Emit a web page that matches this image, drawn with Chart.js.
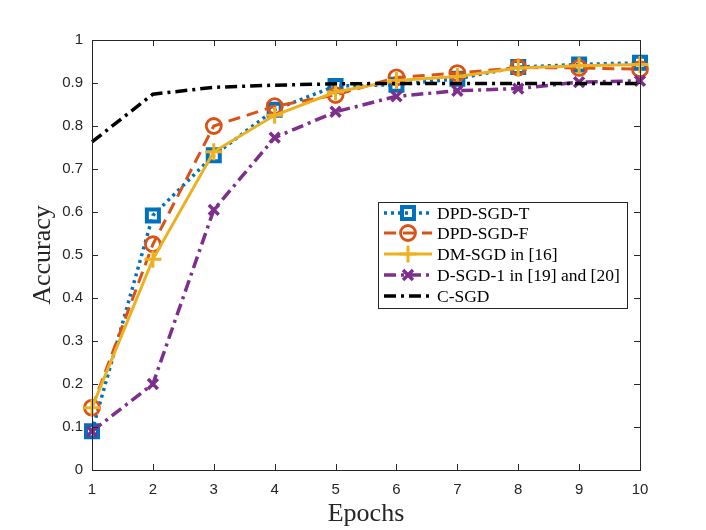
<!DOCTYPE html>
<html><head><meta charset="utf-8">
<script src="https://cdn.jsdelivr.net/npm/chart.js@4/dist/chart.umd.min.js"></script>
<style>html,body{margin:0;padding:0;background:#fff}canvas{display:block}</style>
</head><body>
<canvas id="c" width="706" height="530"></canvas>
<script>
const epochs = [1,2,3,4,5,6,7,8,9,10];
const yTicks = [0,0.1,0.2,0.3,0.4,0.5,0.6,0.7,0.8,0.9,1];
const seriesNames = ['DPD-SGD-T','DPD-SGD-F','DM-SGD in [16]','D-SGD-1 in [19] and [20]','C-SGD'];
const dpdT  = [0.090,0.592,0.732,0.838,0.893,0.896,0.910,0.937,0.943,0.947];
const dpdF  = [0.145,0.525,0.800,0.846,0.872,0.913,0.923,0.936,0.935,0.932];
const dmSgd = [0.145,0.490,0.740,0.825,0.879,0.906,0.915,0.935,0.940,0.943];
const dSgd1 = [0.090,0.200,0.605,0.773,0.833,0.869,0.882,0.887,0.902,0.905];
const cSgd  = [0.763,0.874,0.890,0.895,0.898,0.899,0.899,0.899,0.899,0.899];

const styles = [
  {color:'#0072BD', dash:[3,4], lw:3.5, pt:'rect', r:8.5, pbw:4},
  {color:'#D95319', dash:[12,7], lw:3, pt:'circle', r:7.5, pbw:2.8},
  {color:'#EDB120', dash:[], lw:3, pt:'cross', r:8.5, pbw:3},
  {color:'#7E2F8E', dash:[12,5,3,5], lw:3.5, pt:'crossRot', r:7, pbw:3.5},
  {color:'#000000', dash:[12,5,3,5], lw:3.5, pt:false, r:0, pbw:0}
];
const allData = [dpdT, dpdF, dmSgd, dSgd1, cSgd];

const datasets = allData.map((d,i)=>({
  label: seriesNames[i],
  data: epochs.map((x,j)=>({x:x,y:d[j]})),
  borderColor: styles[i].color,
  backgroundColor: 'rgba(0,0,0,0)',
  borderWidth: styles[i].lw,
  borderDash: styles[i].dash,
  pointStyle: styles[i].pt,
  pointRadius: styles[i].r,
  pointBorderWidth: styles[i].pbw,
  pointBorderColor: styles[i].color,
  pointBackgroundColor: 'rgba(0,0,0,0)',
  pointHoverRadius: styles[i].r,
  tension: 0,
  clip: false,
  order: 5 - i
}));

const frame = {
  id:'frame',
  afterDatasetsDraw(chart){
    const ctx = chart.ctx, a = chart.chartArea;
    const xs = chart.scales.x, ys = chart.scales.y;
    ctx.save();
    ctx.strokeStyle = '#262626'; ctx.lineWidth = 1; ctx.setLineDash([]);
    ctx.strokeRect(a.left+0.5, a.top+0.5, a.right-a.left, a.bottom-a.top);
    const L = 6;
    ctx.beginPath();
    epochs.forEach(v=>{
      const px = Math.round(xs.getPixelForValue(v))+0.5;
      ctx.moveTo(px,a.bottom); ctx.lineTo(px,a.bottom-L);
      ctx.moveTo(px,a.top); ctx.lineTo(px,a.top+L);
    });
    yTicks.forEach(v=>{
      const py = Math.round(ys.getPixelForValue(v))+0.5;
      ctx.moveTo(a.left,py); ctx.lineTo(a.left+L,py);
      ctx.moveTo(a.right,py); ctx.lineTo(a.right-L,py);
    });
    ctx.stroke();
    // legend
    const bx=378, by=202, bw=249, bh=106;
    ctx.fillStyle='#fff'; ctx.fillRect(bx,by,bw,bh);
    ctx.strokeStyle='#262626'; ctx.strokeRect(bx+0.5,by+0.5,bw,bh);
    const rows=[213,233,254,275,296];
    ctx.font='17.5px "Liberation Serif"'; ctx.textBaseline='middle'; ctx.textAlign='left';
    seriesNames.forEach((n,i)=>{
      const s=styles[i], y=rows[i];
      ctx.strokeStyle=s.color; ctx.lineWidth=s.lw; ctx.setLineDash(s.dash);
      ctx.beginPath(); ctx.moveTo(384,y); ctx.lineTo(432,y); ctx.stroke();
      ctx.setLineDash([]);
      if (s.pt) {
        ctx.lineWidth=s.pbw; ctx.strokeStyle=s.color; ctx.fillStyle='rgba(0,0,0,0)';
        Chart.helpers.drawPoint(ctx,{pointStyle:s.pt,radius:s.r,borderWidth:s.pbw,rotation:0},408,y);
      }
      ctx.fillStyle='#000';
      ctx.fillText(n,437,y+1);
    });
    ctx.restore();
  }
};

new Chart(document.getElementById('c'), {
  type:'line',
  data:{datasets},
  plugins:[frame],
  options:{
    responsive:false, animation:false,
    layout:{padding:{left:0,top:40,right:66,bottom:0}},
    plugins:{legend:{display:false}, tooltip:{enabled:false}},
    scales:{
      x:{type:'linear', min:1, max:10,
        afterBuildTicks(s){ s.ticks = epochs.map(v=>({value:v})); },
        afterFit(s){ s.height = 60; },
        grid:{display:false, drawTicks:false}, border:{display:false},
        ticks:{padding:11, color:'#262626', font:{family:'Liberation Sans', size:15}},
        title:{display:true, text:'Epochs', color:'#262626', font:{family:'Liberation Serif', size:26}, padding:{top:0,bottom:0}}
      },
      y:{type:'linear', min:0, max:1,
        afterBuildTicks(s){ s.ticks = yTicks.map(v=>({value:v})); },
        afterFit(s){ s.width = 92; },
        grid:{display:false, drawTicks:false}, border:{display:false},
        ticks:{padding:9, color:'#262626', font:{family:'Liberation Sans', size:15},
          callback:(v)=>String(Math.round(v*10)/10)},
        title:{display:true, text:'Accuracy', color:'#262626', font:{family:'Liberation Serif', size:26}, padding:{top:28,bottom:0}}
      }
    }
  }
});
</script>
</body></html>
